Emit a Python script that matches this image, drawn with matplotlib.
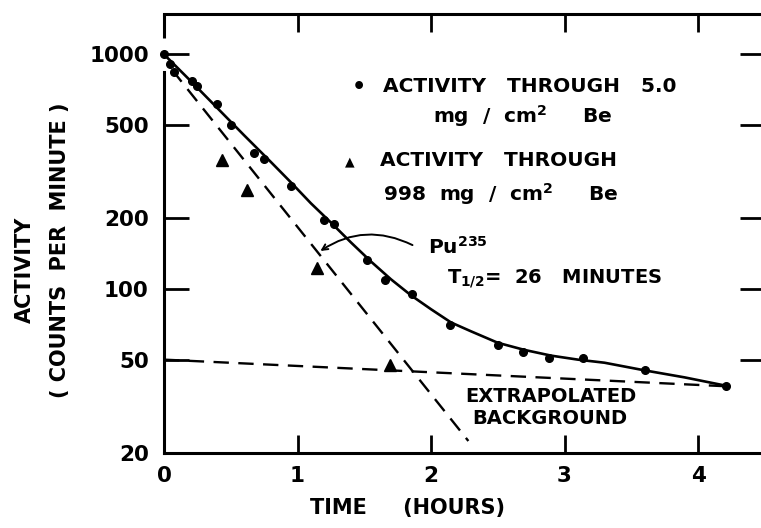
import numpy as np
import matplotlib
matplotlib.use("Agg")
import matplotlib.pyplot as plt
from matplotlib.ticker import FixedLocator, FixedFormatter, NullLocator

plt.rcParams['font.family'] = ['DejaVu Sans']
plt.rcParams['font.weight'] = 'bold'

# measured activity through 5.0 mg/cm2 Be (dots)
dot_t = [0.0, 0.045, 0.075, 0.207, 0.25, 0.395, 0.50, 0.676, 0.75, 0.95,
         1.20, 1.275, 1.52, 1.655, 1.855, 2.14, 2.50, 2.687, 2.886, 3.136,
         3.60, 4.21]
dot_a = [1000, 910, 838, 773, 736, 615, 498, 379, 359, 274,
         196, 190, 133, 109, 95, 70, 58, 54, 51, 51,
         45, 38.7]

# activity through 998 mg/cm2 Be (triangles)
tri_t = [0.434, 0.62, 1.144, 1.693]
tri_a = [355, 263, 123, 47.4]

# smooth curve drawn through the dots
curve_t = [0.0, 0.2, 0.4, 0.6, 0.8, 0.95, 1.1, 1.25, 1.4, 1.55, 1.7, 1.85,
           2.0, 2.15, 2.3, 2.5, 2.7, 2.9, 3.1, 3.3, 3.6, 3.9, 4.21]
curve_a = [1000, 770, 590, 452, 348, 285, 232, 192, 158, 131, 110, 94,
           82, 72, 66, 59, 55, 52, 50, 48.5, 45, 42, 38.7]

# Pu235 component (dashed) and extrapolated background (dashed)
pu_t = [0.06, 2.28]
pu_a = [860, 22.5]
bg_t = [0.0, 4.21]
bg_a = [50, 38.5]

yticks = [20, 50, 100, 200, 500, 1000]
ytick_labels = ['20', '50', '100', '200', '500', '1000']
xticks = [0, 1, 2, 3, 4]
xtick_labels = ['0', '1', '2', '3', '4']

W, H = 761, 528
fig = plt.figure(figsize=(W / 100, H / 100), dpi=100)

def fx(px):
    return px / W

def fy(py):
    return 1 - py / H

ax = fig.add_axes([fx(164), fy(453), 4.5 * 133.5 / W, (453 - 14) / H])
ax.set_yscale('log')
ax.set_xlim(0, 4.5)
ax.set_ylim(20, 1486)

ax.plot(curve_t, curve_a, color='black', lw=1.9, solid_capstyle='round')
ax.plot(pu_t, pu_a, color='black', lw=1.7, dashes=(6.5, 4))
ax.plot(bg_t, bg_a, color='black', lw=1.7, dashes=(6.5, 4))
ax.plot(dot_t, dot_a, 'o', color='black', ms=5.5, clip_on=False, zorder=5)
ax.plot(tri_t, tri_a, '^', color='black', ms=8, clip_on=False, zorder=5)

ax.yaxis.set_major_locator(FixedLocator(yticks))
ax.yaxis.set_major_formatter(FixedFormatter(ytick_labels))
ax.yaxis.set_minor_locator(NullLocator())
ax.xaxis.set_major_locator(FixedLocator(xticks))
ax.xaxis.set_major_formatter(FixedFormatter(xtick_labels))

for s in ax.spines.values():
    s.set_linewidth(2.2)
# small gap in the left axis line around the first point
ax.spines['left'].set_bounds(20, 840)
ax.plot([0, 0], [1170, 1486], color='black', lw=2.2, clip_on=False,
        solid_capstyle='butt')

ax.tick_params(axis='both', which='major', direction='in', width=2.0,
               labelsize=15.5, top=True, right=True)
ax.tick_params(axis='y', length=18, pad=11)
ax.tick_params(axis='x', length=13, pad=9)

# legend-like annotations
fig.text(fx(359), fy(87), '•', fontsize=16, ha='center', va='center')
fig.text(fx(383), fy(86), 'ACTIVITY   THROUGH   5.0', fontsize=14.5, va='center')
fig.text(fx(433), fy(116), r'mg  /  cm$^{\mathbf{2}}$     Be', fontsize=14.5, va='center')
fig.text(fx(350), fy(162), '▲', fontsize=9, ha='center', va='center')
fig.text(fx(380), fy(160), 'ACTIVITY   THROUGH', fontsize=14.5, va='center')
fig.text(fx(383), fy(194), r'998  mg  /  cm$^{\mathbf{2}}$     Be', fontsize=14.5, va='center')

ax.annotate('', xy=(1.154, 143), xytext=(1.88, 152),
            arrowprops=dict(arrowstyle='->', color='black', lw=1.4,
                            connectionstyle='arc3,rad=0.3'))
fig.text(fx(428), fy(247), r'Pu$^{\mathbf{235}}$', fontsize=14.5, va='center')
fig.text(fx(447), fy(279), r'T$_{\mathbf{1/2}}$=  26   MINUTES', fontsize=14, va='center')
fig.text(fx(465), fy(397), 'EXTRAPOLATED', fontsize=14, va='center')
fig.text(fx(472), fy(419), 'BACKGROUND', fontsize=14, va='center')

fig.text(fx(25), fy(270), 'ACTIVITY', fontsize=15, rotation=90, ha='center', va='center')
fig.text(fx(60), fy(250), '( COUNTS  PER  MINUTE )', fontsize=15, rotation=90,
         ha='center', va='center')
fig.text(fx(408), fy(508), 'TIME     (HOURS)', fontsize=15, ha='center', va='center')

fig.savefig('out.png', dpi=100)
